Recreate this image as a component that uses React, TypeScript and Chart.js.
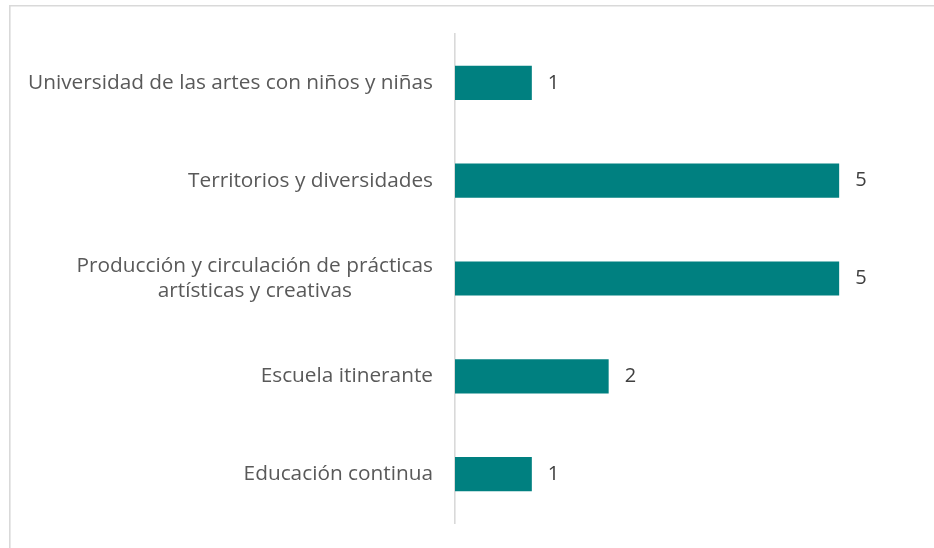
import React, { useEffect, useRef } from "react";
import { Chart, registerables } from "chart.js";

Chart.register(...registerables);

const categories: string[][] = [
  ["Universidad de las artes con niños y niñas"],
  ["Territorios y diversidades"],
  ["Producción y circulación de prácticas", "artísticas y creativas"],
  ["Escuela itinerante"],
  ["Educación continua"],
];
const values: number[] = [1, 5, 5, 2, 1];
const xMax = 6;

const FONT = "'Open Sans', 'Noto Sans', sans-serif";

const framePlugin = {
  id: "frame",
  beforeDraw(chart: any) {
    const ctx = chart.ctx;
    ctx.save();
    ctx.strokeStyle = "#d9d9d9";
    ctx.lineWidth = 1.6;
    ctx.beginPath();
    ctx.moveTo(9.8, 548);
    ctx.lineTo(9.8, 5.8);
    ctx.lineTo(934, 5.8);
    ctx.stroke();
    ctx.restore();
  },
};

const labelPlugin = {
  id: "labels",
  afterDraw(chart: any) {
    const ctx = chart.ctx;
    const yScale = chart.scales.y;
    const area = chart.chartArea;
    ctx.save();
    ctx.font = `20.8px ${FONT}`;
    ctx.fillStyle = "#595959";
    ctx.textBaseline = "middle";
    const rightEdge = area.left - 22;
    const lineH = 25;
    categories.forEach((lines, i) => {
      const cy = yScale.getPixelForValue(i);
      const widths = lines.map((l) => ctx.measureText(l).width);
      const maxW = Math.max(...widths);
      const center = rightEdge - maxW / 2;
      ctx.textAlign = "center";
      lines.forEach((l, j) => {
        const y = cy + (j - (lines.length - 1) / 2) * lineH;
        ctx.fillText(l, center, y);
      });
    });
    ctx.font = `20px ${FONT}`;
    ctx.fillStyle = "#404040";
    ctx.textAlign = "left";
    const meta = chart.getDatasetMeta(0);
    meta.data.forEach((bar: any, i: number) => {
      ctx.fillText(String(values[i]), bar.x + 16, bar.y);
    });
    ctx.restore();
  },
};

export default function App() {
  const ref = useRef<HTMLCanvasElement | null>(null);
  useEffect(() => {
    if (!ref.current) return;
    const chart = new Chart(ref.current, {
      type: "bar",
      data: {
        labels: categories.map((c) => c.join(" ")),
        datasets: [
          {
            data: values,
            backgroundColor: "#008080",
            borderWidth: 0,
            barPercentage: 0.35,
            categoryPercentage: 1,
          },
        ],
      },
      options: {
        indexAxis: "y",
        animation: false,
        responsive: false,
        maintainAspectRatio: false,
        layout: { padding: { left: 0, right: 18, top: 34, bottom: 25 } },
        plugins: {
          legend: { display: false },
          tooltip: { enabled: false },
          title: { display: false },
        },
        scales: {
          x: {
            display: false,
            min: 0,
            max: xMax,
          },
          y: {
            display: true,
            ticks: { display: false },
            grid: { display: false, drawTicks: false },
            border: { display: true, color: "#d9d9d9", width: 1.6 },
            afterFit(scale: any) {
              scale.width = 455;
            },
          },
        },
      },
      plugins: [framePlugin, labelPlugin],
    });
    return () => chart.destroy();
  }, []);
  return (
    <div style={{ position: "fixed", left: 0, top: 0, width: 934, height: 548, background: "#fff" }}>
      <canvas ref={ref} width={934} height={548} style={{ width: 934, height: 548, display: "block" }} />
    </div>
  );
}
